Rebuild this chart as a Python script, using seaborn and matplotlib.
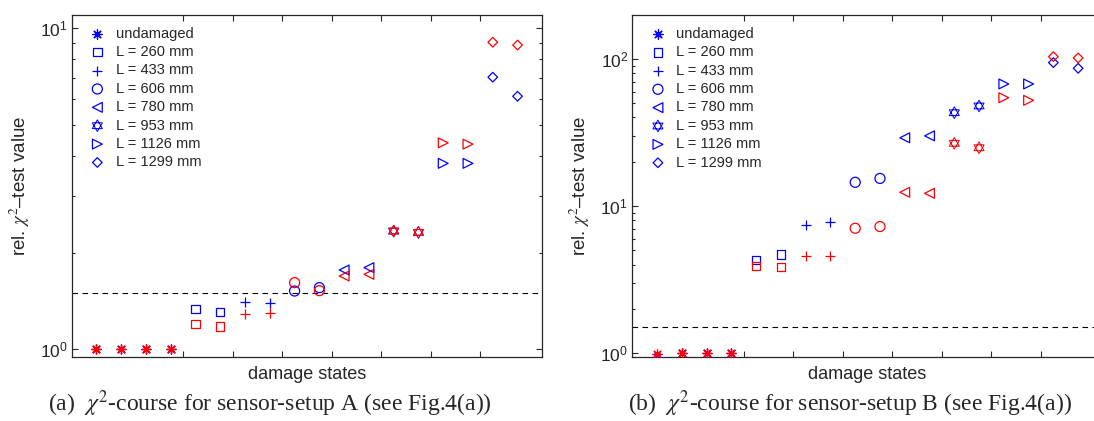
import numpy as np
import pandas as pd
import matplotlib
matplotlib.use("Agg")
import matplotlib.pyplot as plt
from matplotlib.path import Path
from matplotlib.ticker import LogLocator, NullFormatter, FixedLocator
import seaborn as sns

# -----------------------------
# Data
# -----------------------------
series_labels = ["undamaged", "L = 260 mm", "L = 433 mm", "L = 606 mm",
                 "L = 780 mm", "L = 953 mm", "L = 1126 mm", "L = 1299 mm"]
# damage-state positions per series (undamaged has 4 states, the rest 2 each)
states = [[1, 2, 3, 4], [5, 6], [7, 8], [9, 10], [11, 12], [13, 14], [15, 16], [17, 18]]

# setup A
a_blue = [[1.0, 1.0, 1.0, 1.0], [1.335, 1.303], [1.406, 1.397], [1.518, 1.555],
          [1.765, 1.795], [2.333, 2.311], [3.79, 3.79], [7.03, 6.13]]
a_red = [[1.0, 1.0, 1.0, 1.0], [1.199, 1.176], [1.288, 1.300], [1.612, 1.522],
         [1.690, 1.711], [2.333, 2.311], [4.39, 4.35], [9.03, 8.85]]

# setup B
b_blue = [[0.94, 1.0, 1.0, 1.0], [4.30, 4.67], [7.44, 7.80], [14.5, 15.4],
          [29.1, 30.0], [43.1, 47.9], [67.6, 67.6], [94.4, 86.4]]
b_red = [[0.98, 1.0, 1.0, 1.0], [3.89, 3.85], [4.55, 4.55], [7.06, 7.25],
         [12.4, 12.2], [26.7, 24.9], [54.5, 52.3], [103.7, 101.6]]

threshold = 1.5
captions = [r"(a)  $\chi^2$-course for sensor-setup A (see Fig.4(a))",
            r"(b)  $\chi^2$-course for sensor-setup B (see Fig.4(a))"]

# -----------------------------
# Styling
# -----------------------------
sns.set_theme(style="ticks")
plt.rcParams["font.family"] = ["Liberation Sans", "DejaVu Sans"]
plt.rcParams["mathtext.fontset"] = "stix"
plt.rcParams["axes.linewidth"] = 0.9

hexagram = Path(
    [(0, 1), (-0.866, -0.5), (0.866, -0.5), (0, 1),
     (0, -1), (0.866, 0.5), (-0.866, 0.5), (0, -1)],
    [Path.MOVETO, Path.LINETO, Path.LINETO, Path.CLOSEPOLY,
     Path.MOVETO, Path.LINETO, Path.LINETO, Path.CLOSEPOLY])

markers = [(8, 2, 0), "s", "+", "o", "<", hexagram, ">", "D"]
sizes = [45, 36, 55, 52, 50, 70, 50, 24]
widths = [0.9, 0.9, 0.9, 0.9, 0.9, 0.7, 0.9, 0.9]
line_art = [True, False, True, False, False, False, False, False]

W, H = 1094, 421
fig = plt.figure(figsize=(W / 100, H / 100), dpi=100)
ax_a = fig.add_axes([71.7 / W, 1 - 356.7 / H, 470.6 / W, 342.0 / H])
ax_b = fig.add_axes([632.3 / W, 1 - 356.7 / H, 470.6 / W, 341.7 / H])


def draw_panel(ax, blue, red, ylim, yticks):
    for vals, color, with_label in [(blue, "blue", True), (red, "red", False)]:
        for i, lab in enumerate(series_labels):
            kw = dict(color=color, linewidth=widths[i])
            if not line_art[i]:
                kw.update(facecolor="none", edgecolor=color)
            sns.scatterplot(x=states[i], y=vals[i], marker=markers[i], s=sizes[i],
                            label=lab if with_label else None, legend=False,
                            ax=ax, zorder=3, **kw)
    ax.axhline(threshold, color="black", linestyle=(0, (5, 4)), linewidth=0.8)
    ax.set_yscale("log")
    ax.set_xlim(0, 19)
    ax.set_ylim(*ylim)
    ax.xaxis.set_major_locator(FixedLocator(np.arange(4.5, 17, 2)))
    ax.set_xticklabels([])
    ax.yaxis.set_major_locator(FixedLocator(yticks))
    ax.yaxis.set_minor_locator(LogLocator(base=10, subs=np.arange(2, 10)))
    ax.yaxis.set_minor_formatter(NullFormatter())
    ax.tick_params(which="both", direction="in", top=True, right=True,
                   width=0.8, labelsize=12.5, pad=3)
    ax.tick_params(which="major", length=4)
    ax.tick_params(which="minor", length=2.5)
    ax.set_xlabel("damage states", fontsize=13, labelpad=4)
    ax.set_ylabel(r"rel. $\chi^2$–test value", fontsize=13.5)
    ax.yaxis.set_label_coords(-0.085, 0.5)
    handles, labels = ax.get_legend_handles_labels()
    ax.legend(handles, labels, loc="upper left", bbox_to_anchor=(0.039, 0.965),
              frameon=False, fontsize=10.5, labelspacing=0.3, handlelength=1.0,
              handletextpad=0.75, borderaxespad=0, borderpad=0)


draw_panel(ax_a, a_blue, a_red, (0.948, 11.0), [1, 10])
draw_panel(ax_b, b_blue, b_red, (0.945, 199), [1, 10, 100])

fig.text(270 / W, 1 - 404 / H, captions[0], ha="center", va="center",
         fontsize=17, family=["Liberation Serif", "DejaVu Serif"])
fig.text(850 / W, 1 - 404 / H, captions[1], ha="center", va="center",
         fontsize=17, family=["Liberation Serif", "DejaVu Serif"])

fig.savefig("out.png", dpi=100)
